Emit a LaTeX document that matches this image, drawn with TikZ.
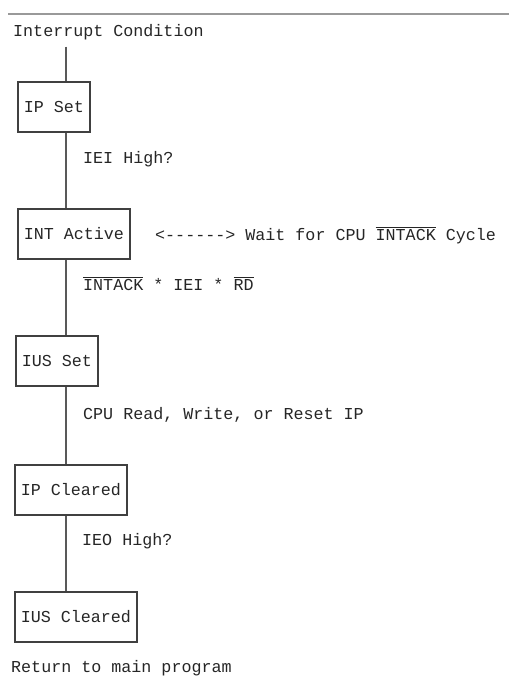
\documentclass[tikz,border=0pt]{standalone}
\usepackage{fontspec}
\setmainfont{Liberation Mono}
\usetikzlibrary{positioning}
\newcommand{\negsig}[1]{$\overline{\hbox{#1}}$}

\begin{document}
\begin{tikzpicture}[x=1pt, y=-1pt,
  every node/.style={font=\fontsize{16.7}{20}\selectfont, text=black!85},
  state/.style={draw=black!75, line width=1.6pt, anchor=west, minimum height=50pt, inner xsep=6pt, inner ysep=0pt},
  cond/.style={anchor=base west, inner sep=0pt},
  wire/.style={draw=black!65, line width=1.6pt}]
  \useasboundingbox (0,0) rectangle (509,689);
  \draw[black!40, line width=1.5pt] (8,14) -- (509,14);
  \coordinate (spine) at (66,0);

  \node[cond] (start) at (13,36) {Interrupt Condition};
  \node[state] (ipset) at (17,107) {IP Set};
  \node[cond] (iei) at (83,163) {IEI High?};
  \node[state] (intact) at (17,234) {INT Active};
  \node[cond] (wait) at (155,240) {<-{}-{}-{}-{}-{}-> Wait for CPU \negsig{INTACK} Cycle};
  \node[cond] (ack) at (83,290) {\negsig{INTACK} * IEI * \negsig{RD}};
  \node[state] (iusset) at (15,361) {IUS Set};
  \node[cond] (cpu) at (83,419) {CPU Read, Write, or Reset IP};
  \node[state] (ipclr) at (14,490) {IP Cleared};
  \node[cond] (ieo) at (82,545) {IEO High?};
  \node[state] (iusclr) at (14,617) {IUS Cleared};
  \node[cond] (ret) at (11,672) {Return to main program};

  \draw[wire] (start.south -| spine) ++(0,7) -- (ipset.north -| spine);
  \draw[wire] (ipset.south -| spine) -- (intact.north -| spine);
  \draw[wire] (intact.south -| spine) -- (iusset.north -| spine);
  \draw[wire] (iusset.south -| spine) -- (ipclr.north -| spine);
  \draw[wire] (ipclr.south -| spine) -- (iusclr.north -| spine);
\end{tikzpicture}
\end{document}
